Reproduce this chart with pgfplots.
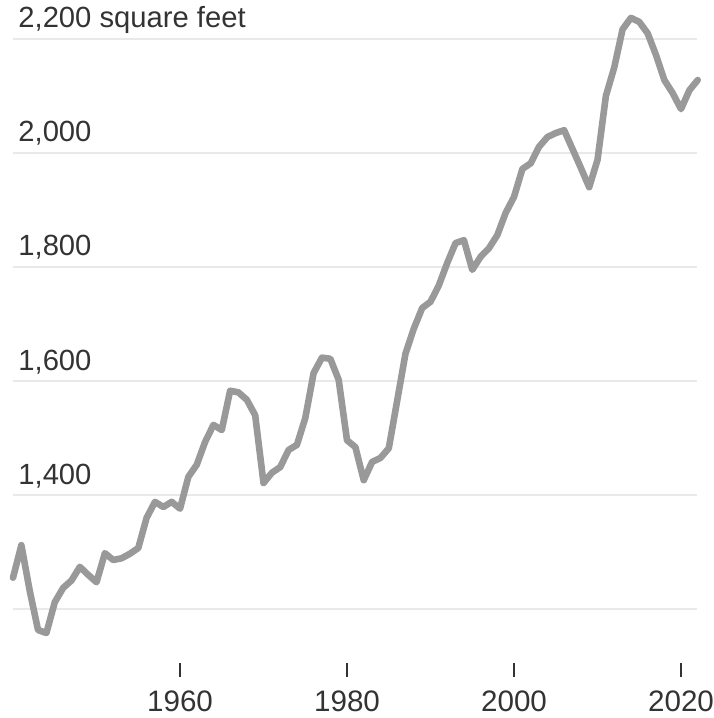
\documentclass[border=0pt]{standalone}
\usepackage{pgfplots}
\pgfplotsset{compat=1.18}
\usepackage{fontspec}
\setmainfont{Liberation Sans}
\definecolor{linegray}{HTML}{999999}
\definecolor{gridgray}{HTML}{E9E9E9}
\definecolor{txt}{HTML}{333333}
\begin{document}
\begin{tikzpicture}
\begin{axis}[
  at={(0,0)}, anchor=south west,
  scale only axis,
  width=356.5pt, height=331.5pt,
  xmin=1938.44, xmax=2023.83,
  ymin=1105.3, ymax=2268.4,
  axis line style={draw=none},
  clip=false,
  ytick=\empty,
  xtick={1960,1980,2000,2020},
  xticklabels={1960,1980,2000,2020},
  xtick pos=bottom,
  tick align=outside,
  major tick length=7pt,
  tick style={draw=txt, line width=1pt},
  xticklabel style={font=\fontsize{14.8}{17}\selectfont, text=txt, anchor=north, inner sep=0pt, yshift=-6.5pt},
]
% gridlines
\foreach \g in {1200,1400,1600,1800,2000,2200}{
  \edef\tmp{\noexpand\draw[gridgray, line width=1.1pt] (axis cs:1940.04,\g) -- (axis cs:2021.88,\g);}
  \tmp
}
\addplot[color=linegray, line width=3.3pt, line join=round, line cap=round, mark=none] table {
x y
1940 1255
1941 1312
1942 1232
1943 1163
1944 1158
1945 1212
1946 1237
1947 1250
1948 1274
1949 1260
1950 1247
1951 1298
1952 1286
1953 1289
1954 1297
1955 1307
1956 1360
1957 1388
1958 1379
1959 1388
1960 1376
1961 1432
1962 1453
1963 1493
1964 1523
1965 1514
1966 1583
1967 1580
1968 1567
1969 1540
1970 1421
1971 1439
1972 1449
1973 1479
1974 1488
1975 1535
1976 1614
1977 1641
1978 1639
1979 1602
1980 1496
1981 1484
1982 1426
1983 1458
1984 1465
1985 1482
1986 1565
1987 1648
1988 1692
1989 1728
1990 1739
1991 1768
1992 1807
1993 1842
1994 1847
1995 1795
1996 1818
1997 1833
1998 1856
1999 1895
2000 1923
2001 1972
2002 1982
2003 2011
2004 2028
2005 2035
2006 2040
2007 2007
2008 1974
2009 1940
2010 1988
2011 2100
2012 2150
2013 2217
2014 2237
2015 2230
2016 2210
2017 2172
2018 2128
2019 2105
2020 2077
2021 2110
2022 2128
};
\foreach \g/\lab in {1400/{1,400},1600/{1,600},1800/{1,800},2000/{2,000},2200/{2,200 square feet}}{
  \edef\tmp{\noexpand\node[anchor=base west, inner sep=0pt, text=txt, font=\noexpand\fontsize{14.6}{17}\noexpand\selectfont, xshift=9pt, yshift=5.5pt] at (axis cs:1938.44,\g) {\lab};}
  \tmp
}
\end{axis}
\pgfresetboundingbox
\path[use as bounding box] (0,-27.5pt) rectangle (356.5pt,331.5pt);
\end{tikzpicture}
\end{document}
